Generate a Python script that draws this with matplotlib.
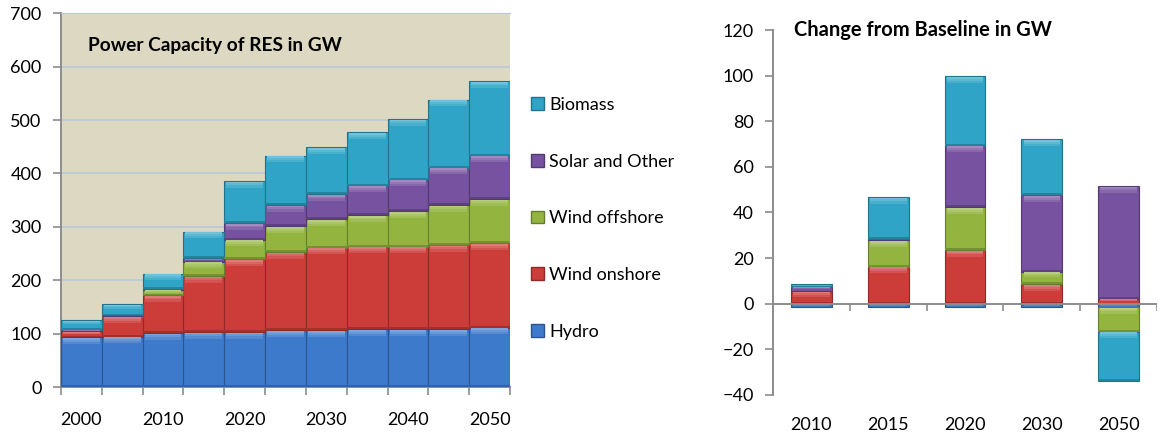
import numpy as np
import matplotlib.pyplot as plt
from matplotlib.patches import Patch
from matplotlib.colors import to_rgb

plt.rcParams['font.family'] = ['Lato', 'DejaVu Sans']

# RES capacity in GW
years = ['2000', '2005', '2010', '2015', '2020', '2025', '2030', '2035', '2040', '2045', '2050']
hydro = [93, 94, 101, 103, 103, 106, 106, 108, 108, 108, 111]
wind_on = [11, 38, 71, 105, 136, 147, 155, 155, 155, 158, 158]
wind_off = [0.5, 0.5, 10, 27, 37, 48, 53, 59, 66, 75, 83]
solar = [3, 2, 1, 6, 31, 40, 47, 55, 59, 70, 81]
biomass = [18, 21, 29, 50, 79, 92, 88, 100, 114, 127, 140]

# change from baseline in GW
chg_years = ['2010', '2015', '2020', '2030', '2050']
d_hydro = [-1.5, -1.5, -1.5, -1.5, -1.5]
d_wind_on = [5.5, 16.3, 23.5, 8.5, 2.2]
d_wind_off = [0, 11.5, 18.7, 5.5, -10.7]
d_solar = [2, 0.5, 27, 33.5, 49.4]
d_biomass = [1, 18.5, 30.5, 24.5, -21.5]

names = ['Hydro', 'Wind onshore', 'Wind offshore', 'Solar and Other', 'Biomass']
colors = ['#3E7ACB', '#CC3C39', '#93B540', '#7652A0', '#2FA4C6']


def shade(c, f):
    r = np.array(to_rgb(c))
    if f > 0:
        return tuple(r + (1 - r) * f)
    return tuple(r * (1 + f))


def bevel_bars(ax, x, vals, bottoms, color, width, px):
    vals = np.asarray(vals, float)
    bottoms = np.asarray(bottoms, float)
    ax.bar(x, vals, width, bottom=bottoms, color=color,
           edgecolor=shade(color, -0.3), linewidth=0.8, zorder=3)
    top = np.where(vals >= 0, bottoms + vals, bottoms)
    bot = np.where(vals >= 0, bottoms, bottoms + vals)
    size = np.abs(vals)
    # soft light band along the top of each segment
    for frac, f in [(1.0, 0.12), (0.6, 0.22), (0.3, 0.32)]:
        hl = np.minimum(size * 0.4, 6 * px) * frac
        ax.bar(x, hl, width * 0.9, bottom=top - hl - 0.6 * px,
               color=shade(color, f), linewidth=0, zorder=4)
    dk = np.minimum(size * 0.15, 2 * px)
    ax.bar(x, dk, width, bottom=bot, color=shade(color, -0.2),
           linewidth=0, zorder=4)


fig = plt.figure(figsize=(11.61, 4.38), dpi=100)

# left: stacked capacity
ax1 = fig.add_axes([0.0525, 0.1164, 0.3868, 0.8532])
ax1.set_facecolor('#DDD8C2')
x = np.arange(len(years))
px1 = 700 / (0.8532 * 438)
bottom = np.zeros(len(years))
for vals, c in zip([hydro, wind_on, wind_off, solar, biomass], colors):
    bevel_bars(ax1, x, vals, bottom, c, 1.0, px1)
    bottom += np.array(vals)
ax1.set_xlim(-0.5, len(years) - 0.5)
ax1.set_ylim(0, 700)
ax1.set_yticks(np.arange(0, 701, 100))
ax1.yaxis.grid(True, color='#B8C8DC', linewidth=1.2, zorder=1)
ax1.set_axisbelow(True)
ax1.set_xticks(x[::2])
ax1.set_xticklabels(years[::2])
ax1.set_xticks(np.arange(-0.5, len(years)), minor=True)
ax1.tick_params(axis='x', which='major', length=0, pad=18, labelsize=13)
ax1.tick_params(axis='x', which='minor', length=6, color='#8C8C8C', width=1.2)
ax1.tick_params(axis='y', length=6, color='#8C8C8C', width=1.2, pad=8, labelsize=13)
for s in ['left', 'bottom']:
    ax1.spines[s].set_color('#8C8C8C')
    ax1.spines[s].set_linewidth(1.4)
ax1.spines['right'].set_visible(False)
ax1.spines['top'].set_color('#B8C8DC')
ax1.text(0.06, 0.914, 'Power Capacity of RES in GW', transform=ax1.transAxes,
         fontsize=13.8, fontweight='bold', va='center')

# legend between the two panels
handles = [Patch(facecolor=c, edgecolor=shade(c, -0.3), label=n)
           for n, c in zip(names, colors)][::-1]
fig.legend(handles=handles, loc='upper left', bbox_to_anchor=(0.4515, 0.795),
           frameon=False, fontsize=13, handlelength=0.7, handleheight=0.7,
           handletextpad=0.3, labelspacing=2.25, borderaxespad=0)

# right: change from baseline
ax2 = fig.add_axes([0.6658, 0.0982, 0.3308, 0.8333])
x2 = np.arange(len(chg_years))
px2 = 160 / (0.8333 * 438)
pos = np.zeros(len(chg_years))
neg = np.zeros(len(chg_years))
for vals, c in zip([d_hydro, d_wind_on, d_wind_off, d_solar, d_biomass], colors):
    vals = np.array(vals, float)
    b = np.where(vals >= 0, pos, neg)
    bevel_bars(ax2, x2, vals, b, c, 0.53, px2)
    pos += np.where(vals >= 0, vals, 0)
    neg += np.where(vals < 0, vals, 0)
ax2.set_xlim(-0.5, len(chg_years) - 0.5)
ax2.set_ylim(-40, 120)
ax2.set_yticks(np.arange(-40, 121, 20))
ax2.axhline(0, color='#8C8C8C', linewidth=1.4, zorder=5)
ax2.vlines(np.arange(0.5, len(chg_years)), -3, 0, color='#8C8C8C', linewidth=1.2, zorder=5)
ax2.set_xticks(x2)
ax2.set_xticklabels(chg_years)
ax2.tick_params(axis='x', length=0, pad=16, labelsize=13)
ax2.tick_params(axis='y', length=6, color='#8C8C8C', width=1.2, pad=8, labelsize=13)
for s in ['top', 'right', 'bottom']:
    ax2.spines[s].set_visible(False)
ax2.spines['left'].set_color('#8C8C8C')
ax2.spines['left'].set_linewidth(1.4)
ax2.text(0.055, 1.0, 'Change from Baseline in GW', transform=ax2.transAxes,
         fontsize=14.5, fontweight='bold', va='center')

fig.savefig('out.png', dpi=100)
